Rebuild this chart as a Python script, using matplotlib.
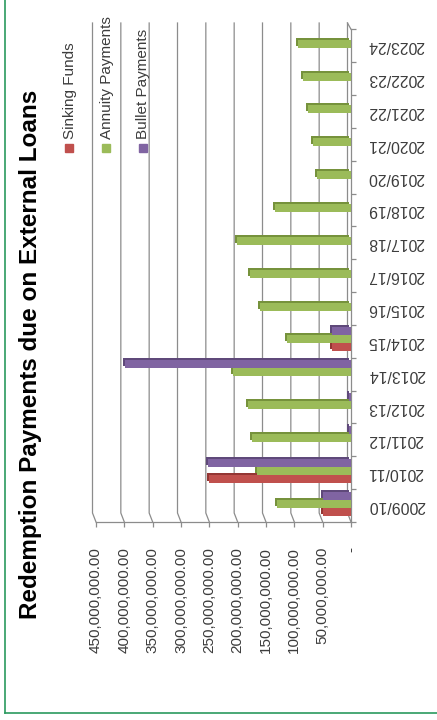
import matplotlib
matplotlib.use("Agg")
import matplotlib.pyplot as plt
import matplotlib.transforms as mtransforms
from matplotlib.patches import Rectangle
from matplotlib.lines import Line2D
import numpy as np

plt.rcParams['font.family'] = ['Liberation Sans', 'DejaVu Sans']

# 每年到期的外债偿付额
years = ['2009/10', '2010/11', '2011/12', '2012/13', '2013/14', '2014/15',
         '2015/16', '2016/17', '2017/18', '2018/19', '2019/20', '2020/21',
         '2021/22', '2022/23', '2023/24']
series_names = ['Sinking Funds', 'Annuity Payments', 'Bullet Payments']
sinking = [50e6, 251e6, 0, 0, 0, 33e6, 0, 0, 0, 0, 0, 0, 0, 0, 0]
annuity = [130e6, 166e6, 175e6, 182e6, 208e6, 113e6, 161e6, 179e6, 201e6,
           135e6, 60e6, 67e6, 76e6, 85e6, 93e6]
bullet = [50e6, 252e6, 3e6, 3e6, 398e6, 33e6, 0, 0, 0, 0, 0, 0, 0, 0, 0]
value_ticks = np.arange(0, 451e6, 50e6)

colours = ['#C0504D', '#9BBB59', '#8064A2']
shades = ['#943634', '#76923C', '#5F497A']
grey = '#8c8c8c'
text_grey = '#3c3c3c'

W, H = 437, 720
fig = plt.figure(figsize=(W / 100, H / 100), dpi=100)

# 坐标轴: 图表整体逆时针转了90度, 数值向左增长
ax_l, ax_r, ax_t, ax_b = 96, 351, 23, 522
ax = fig.add_axes([ax_l / W, 1 - ax_b / H, (ax_r - ax_l) / W, (ax_b - ax_t) / H])
band = (ax_b - 29.3) / len(years)
ytop = len(years) - 0.5 + (29.3 - ax_t) / band
ax.set_xlim(450e6, 0)
ax.set_ylim(-0.5, ytop)

# 背墙网格线 + 底面斜线 (伪3D)
px = 450e6 / (ax_r - ax_l)
dx = 3.5 * px
floor = -0.5 + 9 / band
for v in value_ticks:
    ax.plot([v + dx, v + dx, v], [ytop, floor, -0.5], color=grey, lw=0.9,
            clip_on=False, zorder=1)
ax.plot([dx, 0], [ytop, len(years) - 0.5], color=grey, lw=0.9,
        clip_on=False, zorder=1)

# 柱子: 先画深色的侧面, 再画正面
y = np.arange(len(years))
bh = 0.245
shift = 0.06
depth = mtransforms.ScaledTranslation(-2 / 100, 2 / 100, fig.dpi_scale_trans)
for k, (vals, c, s) in enumerate(zip([sinking, annuity, bullet], colours, shades)):
    pos = y + shift + (k - 1) * bh
    ax.barh(pos, vals, height=bh, color=s, transform=ax.transData + depth,
            zorder=3 + 2 * k)
    ax.barh(pos, vals, height=bh, color=c, zorder=4 + 2 * k)

for side in ['left', 'top']:
    ax.spines[side].set_visible(False)
for side in ['right', 'bottom']:
    ax.spines[side].set_color(grey)
    ax.spines[side].set_linewidth(0.9)
ax.spines['right'].set_bounds(-0.5, len(years) - 0.5)

# 数值轴刻度
ax.set_xticks(value_ticks)
ax.set_xticklabels(['-'] + [f'{v:,.2f}' for v in value_ticks[1:]],
                   rotation=90, fontsize=11, color=text_grey)
ax.tick_params(axis='x', length=3.6, width=0.9, color=grey, pad=14.4)

# 年份刻度 (右侧, 倒置文字)
ax.yaxis.tick_right()
ax.set_yticks(y)
ax.set_yticklabels(years, rotation=180, fontsize=11.3, color=text_grey)
for lab in ax.get_yticklabels():
    lab.set_va('center')
ax.set_yticks(np.arange(-0.5, len(years)), minor=True)
ax.tick_params(axis='y', which='major', length=0, pad=12)
ax.tick_params(axis='y', which='minor', length=3.6, width=0.9, color=grey)

# 标题
fig.text(31 / W, 1 - 354 / H, 'Redemption Payments due on External Loans',
         rotation=90, ha='center', va='center', fontsize=17.5, fontweight='bold')

# 图例
for name, c, lx in zip(series_names, colours, [69, 106, 142.5]):
    fig.add_artist(Rectangle(((lx - 4) / W, 1 - 151.5 / H), 8 / W, 8 / H,
                             transform=fig.transFigure, color=c))
    fig.text((lx + 1) / W, 1 - 139 / H, name, rotation=90, ha='center',
             va='bottom', fontsize=11, color=text_grey)

# 绿色边框
border = '#2a9a5f'
fig.add_artist(Line2D([5 / W, 5 / W], [1 - 713 / H, 1], color=border, lw=1.2,
                      transform=fig.transFigure))
fig.add_artist(Line2D([5 / W, 1], [1 - 713 / H, 1 - 713 / H], color=border,
                      lw=1.2, transform=fig.transFigure))

fig.savefig('out.png', dpi=100)
